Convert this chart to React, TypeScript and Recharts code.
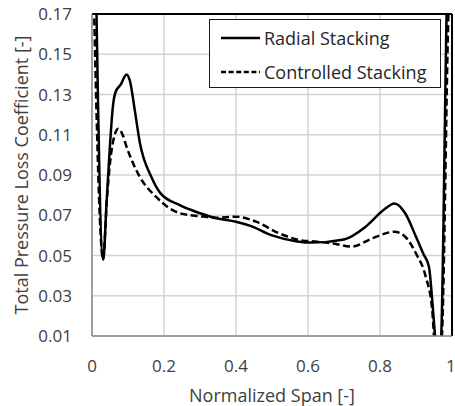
import { LineChart, Line, XAxis, YAxis, CartesianGrid, Legend, ReferenceLine } from "recharts";

const radialSpan = [0.008, 0.031, 0.041, 0.05, 0.058, 0.065, 0.08, 0.096, 0.105, 0.119, 0.133, 0.165, 0.19, 0.244, 0.3, 0.345, 0.4, 0.44, 0.5, 0.57, 0.61, 0.7, 0.76, 0.81, 0.84, 0.87, 0.9, 0.92, 0.936, 0.945, 0.953, 0.962, 0.97, 0.985, 0.995];
const radialLoss = [0.22, 0.048, 0.078, 0.105, 0.124, 0.131, 0.135, 0.14, 0.137, 0.122, 0.106, 0.089, 0.081, 0.075, 0.071, 0.0685, 0.0668, 0.0647, 0.06, 0.057, 0.0564, 0.058, 0.0643, 0.0726, 0.0759, 0.071, 0.0593, 0.051, 0.0444, 0.028, 0.01, -0.005, 0.01, 0.17, 0.25];

const controlledSpan = [0, 0.031, 0.041, 0.05, 0.059, 0.073, 0.085, 0.096, 0.133, 0.179, 0.211, 0.244, 0.3, 0.345, 0.4, 0.456, 0.52, 0.576, 0.62, 0.67, 0.72, 0.78, 0.84, 0.87, 0.9, 0.927, 0.945, 0.95, 0.96, 0.972, 0.99, 1];
const controlledLoss = [0.22, 0.048, 0.077, 0.096, 0.107, 0.113, 0.11, 0.104, 0.089, 0.079, 0.074, 0.071, 0.0695, 0.0688, 0.0693, 0.0668, 0.061, 0.0577, 0.0569, 0.056, 0.0544, 0.0586, 0.0618, 0.0593, 0.051, 0.0395, 0.023, 0.01, -0.01, 0.01, 0.17, 0.22];

const xTicks = [0, 0.2, 0.4, 0.6, 0.8, 1];
const yTicks = [0.01, 0.03, 0.05, 0.07, 0.09, 0.11, 0.13, 0.15, 0.17];

const radialData = radialSpan.map((s, i) => ({ span: s, loss: radialLoss[i] }));
const controlledData = controlledSpan.map((s, i) => ({ span: s, loss: controlledLoss[i] }));

const FONT = "'Open Sans', sans-serif";
const tickStyle = { fill: "#404040", fontSize: 17, fontFamily: FONT };

function LegendBox() {
  const rows = [
    { name: "Radial Stacking", dash: undefined },
    { name: "Controlled Stacking", dash: "5 2.6" },
  ];
  return (
    <div style={{ width: 232, height: 69, boxSizing: "border-box", border: "1.5px solid #1a1a1a", background: "#fff", paddingTop: 1 }}>
      {rows.map((r) => (
        <div key={r.name} style={{ display: "flex", alignItems: "center", height: 34 }}>
          <svg width={40} height={10} style={{ marginLeft: 11 }}>
            <line x1={0} y1={5} x2={39} y2={5} stroke="#000" strokeWidth={2.5} strokeDasharray={r.dash} />
          </svg>
          <span style={{ fontFamily: FONT, fontSize: 18, color: "#262626", marginLeft: 3 }}>{r.name}</span>
        </div>
      ))}
    </div>
  );
}

export default function App() {
  return (
    <div style={{ position: "absolute", left: 0, top: 0, background: "#fff" }}>
      <LineChart width={455} height={406} margin={{ top: 14, right: 3, left: 0, bottom: 0 }}>
        <CartesianGrid stroke="#d4d4d4" strokeWidth={1.5} />
        <XAxis
          type="number"
          dataKey="span"
          domain={[0, 1]}
          ticks={xTicks}
          allowDataOverflow
          height={70}
          tickLine={false}
          tickMargin={18}
          tick={tickStyle}
          tickFormatter={(v) => String(v)}
          axisLine={{ stroke: "#8a8a8a", strokeWidth: 1.5 }}
          label={{ value: "Normalized Span [-]", position: "insideBottom", offset: 4, style: { fill: "#404040", fontSize: 18, fontFamily: FONT } }}
        />
        <YAxis
          type="number"
          domain={[0.01, 0.17]}
          ticks={yTicks}
          allowDataOverflow
          width={92}
          tickLine={false}
          tickMargin={14}
          tick={tickStyle}
          tickFormatter={(v) => v.toFixed(2)}
          axisLine={{ stroke: "#8a8a8a", strokeWidth: 1.5 }}
          label={{ value: "Total Pressure Loss Coefficient [-]", angle: -90, position: "insideLeft", offset: 22, style: { fill: "#404040", fontSize: 18, fontFamily: FONT, textAnchor: "middle" } }}
        />
        <ReferenceLine y={0.17} stroke="#000" strokeWidth={2} />
        <ReferenceLine x={1} stroke="#000" strokeWidth={2} />
        <Line data={radialData} dataKey="loss" name="Radial Stacking" type="monotone" stroke="#000" strokeWidth={2.5} dot={false} isAnimationActive={false} />
        <Line data={controlledData} dataKey="loss" name="Controlled Stacking" type="monotone" stroke="#000" strokeWidth={2.5} strokeDasharray="7 3.5" dot={false} isAnimationActive={false} />
        <Legend
          layout="horizontal"
          verticalAlign="middle"
          align="center"
          content={<LegendBox />}
          wrapperStyle={{ position: "absolute", left: 209, top: 19, width: 232, height: 69 }}
        />
      </LineChart>
    </div>
  );
}
